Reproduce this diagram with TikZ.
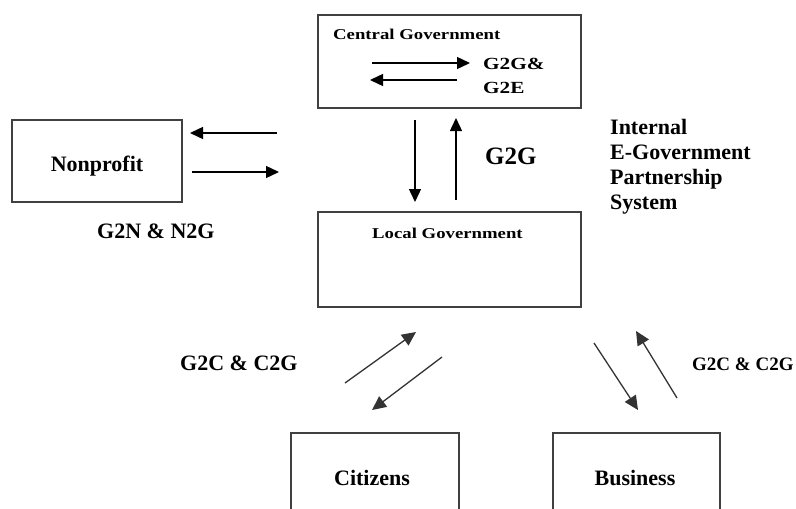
\documentclass[tikz,border=0pt]{standalone}
\usepackage{fontspec}
\setmainfont{Liberation Serif}
\newfontfamily\wideserif{Liberation Serif}[FakeStretch=1.25]
\usetikzlibrary{arrows.meta}

\tikzset{
  box/.style={draw=black!75, line width=1.8pt, inner sep=0pt, fill=none},
  flow/.style={line width=1.4pt, -{Triangle[length=13pt,width=12pt]}},
  diagflow/.style={line width=1.3pt, draw=black!80, -{Triangle[length=14pt,width=13pt]}},
  lbl/.style={inner sep=0pt, anchor=base west, font=\bfseries\fontsize{22}{25}\selectfont},
  smalllbl/.style={inner sep=0pt, anchor=base west, font=\wideserif\bfseries\fontsize{15}{18}\selectfont},
}

\begin{document}
\begin{tikzpicture}[x=1pt, y=-1pt]
  \useasboundingbox (0,0) rectangle (796,509);

  % boxes
  \node[box, minimum width=263pt, minimum height=93pt] (central) at (449.5,61.5) {};
  \node[box, minimum width=263pt, minimum height=95pt] (local) at (449.5,259.5) {};
  \node[box, minimum width=170pt, minimum height=82pt] (nonprofit) at (97,161) {};
  % the two lower boxes run off the bottom edge
  \draw[draw=black!75, line width=1.8pt] (291,540) |- (459,433) -- (459,540);
  \draw[draw=black!75, line width=1.8pt] (553,540) |- (720,433) -- (720,540);

  % box captions
  \node[smalllbl] (centraltext) at (333,39) {Central Government};
  \node[smalllbl] (localtext) at (372,238) {Local Government};
  \node[lbl, anchor=base] (nonprofittext) at (97,171) {Nonprofit};
  \node[lbl, anchor=base] (citizenstext) at (372,485) {Citizens};
  \node[lbl, anchor=base] (businesstext) at (635,485) {Business};

  % flow labels
  \node[smalllbl, font=\wideserif\bfseries\fontsize{17}{20}\selectfont] (ggl1) at (483,69) {G2G\&};
  \node[smalllbl, font=\wideserif\bfseries\fontsize{17}{20}\selectfont] (ggl2) at (483,93) {G2E};
  \node[lbl, font=\bfseries\fontsize{25}{28}\selectfont] (g2g) at (485,164) {G2G};
  \node[lbl] (g2n) at (97,238) {G2N \& N2G};
  \node[lbl] (g2cl) at (180,370) {G2C \& C2G};
  \node[lbl, font=\bfseries\fontsize{19}{22}\selectfont] (g2cr) at (692,370) {G2C \& C2G};
  \node[lbl, align=left, anchor=north west, font=\bfseries\fontsize{22}{25}\selectfont] (internal) at (610,119)
    {Internal\\E-Government\\Partnership\\System};

  % arrow end points
  \coordinate (c1a) at (372,63);  \coordinate (c1b) at (470,63);
  \coordinate (c2a) at (457,80);  \coordinate (c2b) at (370,80);
  \coordinate (v1a) at (415,120); \coordinate (v1b) at (415,202);
  \coordinate (v2a) at (456,200); \coordinate (v2b) at (456,118);
  \coordinate (n1a) at (277,133); \coordinate (n1b) at (190,133);
  \coordinate (n2a) at (192,172); \coordinate (n2b) at (279,172);
  \coordinate (ca1) at (345,383); \coordinate (ca2) at (416,332);
  \coordinate (cb1) at (442,357); \coordinate (cb2) at (372,410);
  \coordinate (ba1) at (594,343); \coordinate (ba2) at (638,410);
  \coordinate (bb1) at (677,398); \coordinate (bb2) at (636,331);

  % arrows
  \draw[flow] (c1a) -- (c1b);
  \draw[flow] (c2a) -- (c2b);
  \draw[flow] (v1a) -- (v1b);
  \draw[flow] (v2a) -- (v2b);
  \draw[flow] (n1a) -- (n1b);
  \draw[flow] (n2a) -- (n2b);
  \draw[diagflow] (ca1) -- (ca2);
  \draw[diagflow] (cb1) -- (cb2);
  \draw[diagflow] (ba1) -- (ba2);
  \draw[diagflow] (bb1) -- (bb2);
\end{tikzpicture}
\end{document}
